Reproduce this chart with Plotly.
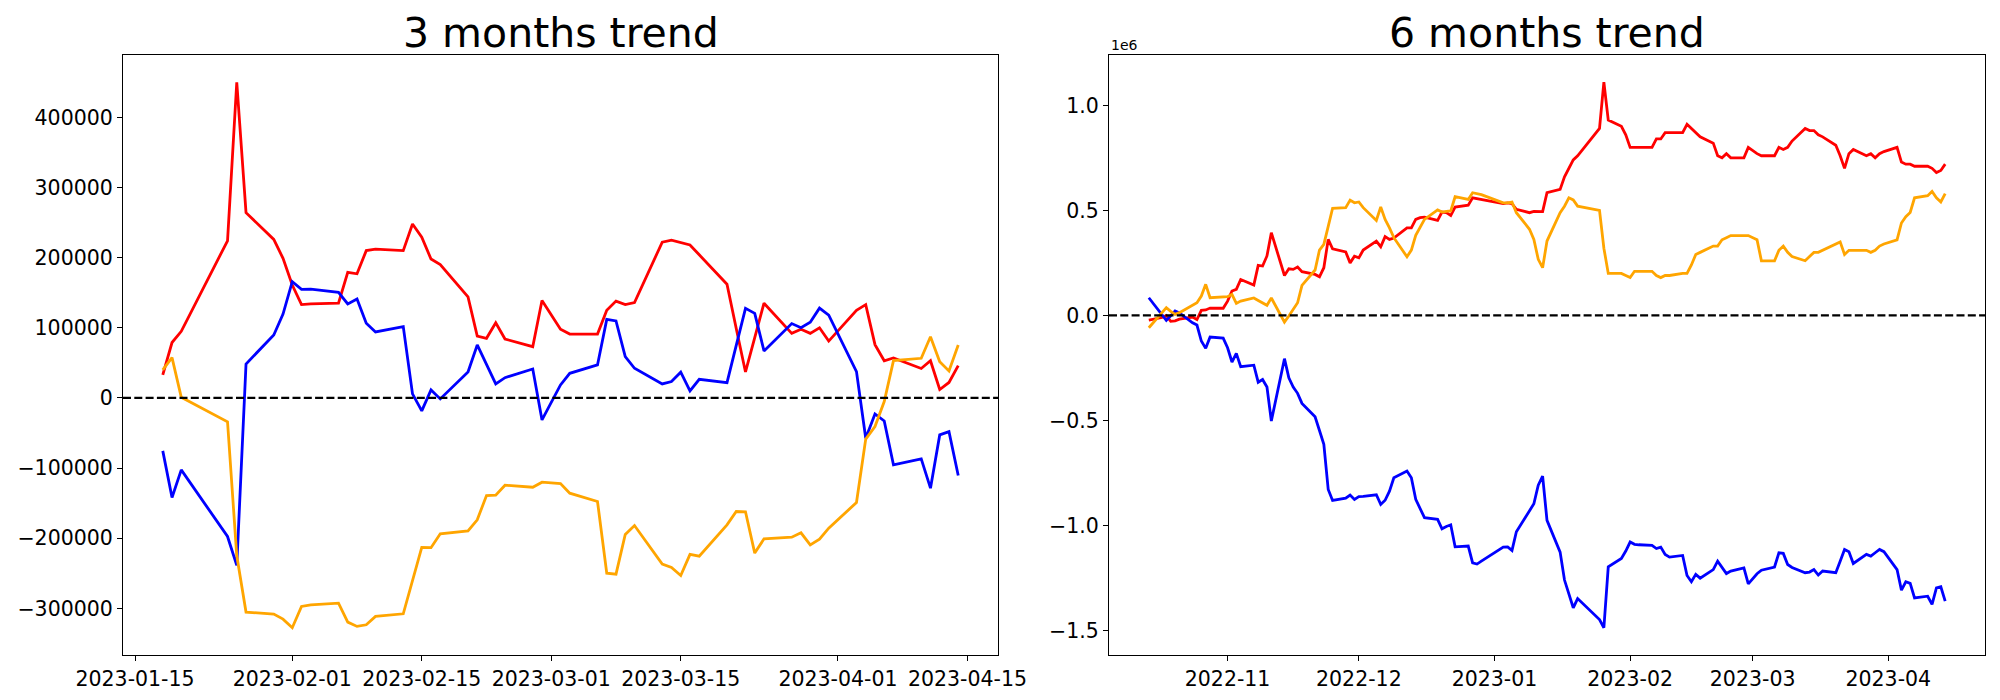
import plotly.graph_objects as go
import pandas as pd

# ---------------- 3 months data ----------------
dates_3m = [
    "2023-01-18", "2023-01-19", "2023-01-20", "2023-01-25", "2023-01-26", "2023-01-27",
    "2023-01-30", "2023-01-31", "2023-02-01", "2023-02-02", "2023-02-03",
    "2023-02-06", "2023-02-07", "2023-02-08", "2023-02-09", "2023-02-10",
    "2023-02-13", "2023-02-14", "2023-02-15", "2023-02-16", "2023-02-17",
    "2023-02-20", "2023-02-21", "2023-02-22", "2023-02-23", "2023-02-24",
    "2023-02-27", "2023-02-28", "2023-03-02", "2023-03-03",
    "2023-03-06", "2023-03-07", "2023-03-08", "2023-03-09", "2023-03-10",
    "2023-03-13", "2023-03-14", "2023-03-15", "2023-03-16", "2023-03-17",
    "2023-03-20", "2023-03-21", "2023-03-22", "2023-03-23", "2023-03-24",
    "2023-03-27", "2023-03-28", "2023-03-29", "2023-03-30", "2023-03-31",
    "2023-04-03", "2023-04-04", "2023-04-05", "2023-04-06", "2023-04-07",
    "2023-04-10", "2023-04-11", "2023-04-12", "2023-04-13", "2023-04-14",
]
red_3m = [
    33000, 79000, 95000, 224000, 450000, 264000,
    226000, 199000, 161000, 133000, 134000,
    135000, 179000, 177000, 210000, 212000,
    210000, 248000, 229000, 198000, 190000,
    144000, 88000, 85000, 107000, 84000,
    73000, 139000, 98000, 91000,
    91000, 125000, 138000, 133000, 136000,
    222000, 225000, 221000, 218000, 204000,
    162000, 99000, 37000, 86000, 135000,
    92000, 98000, 92000, 100000, 81000,
    125000, 133000, 76000, 53000, 57000,
    42000, 53000, 12000, 22000, 46000,
]
blue_3m = [
    -75500, -142000, -102600, -197500, -238800, 48400,
    89700, 119600, 165700, 154800, 155200,
    150600, 133900, 141000, 106400, 94000,
    101600, 5700, -18500, 11400, -1400,
    37000, 75500, 47000, 19900, 28900,
    41300, -31300, 18500, 35100,
    47000, 112000, 109700, 58900, 42300,
    19900, 23300, 36600, 10000, 26600,
    21800, 75000, 127700, 120600, 67000,
    106000, 100000, 108000, 128000, 118000,
    37500, -57400, -22800, -32800, -95400,
    -86900, -128600, -52700, -48000, -110700,
]
orange_3m = [
    39900, 57400, 1000, -34000, -225000, -305300,
    -308100, -315300, -327600, -297200, -295000,
    -292500, -319600, -325700, -323400, -311500,
    -307700, -260000, -213200, -213500, -193700,
    -189500, -173800, -139100, -138700, -124400,
    -127300, -120100, -122000, -135800,
    -147700, -249800, -251200, -194700, -181900,
    -236900, -241700, -253100, -223100, -225500,
    -180900, -161900, -162300, -221200, -200900,
    -198500, -192300, -209400, -201300, -185600,
    -149100, -58800, -40800, -5200, 53200,
    56500, 87300, 51700, 38500, 75500,
]

# ---------------- 6 months data ----------------
dates_6m = [
    "2022-10-14", "2022-10-17", "2022-10-18", "2022-10-19", "2022-10-20", "2022-10-21",
    "2022-10-24", "2022-10-25", "2022-10-26", "2022-10-27", "2022-10-28",
    "2022-10-31", "2022-11-01", "2022-11-02", "2022-11-03", "2022-11-04",
    "2022-11-07", "2022-11-08", "2022-11-09", "2022-11-10", "2022-11-11",
    "2022-11-14", "2022-11-15", "2022-11-16", "2022-11-17", "2022-11-18",
    "2022-11-21", "2022-11-22", "2022-11-23", "2022-11-24", "2022-11-25",
    "2022-11-28", "2022-11-29", "2022-11-30", "2022-12-01", "2022-12-02",
    "2022-12-05", "2022-12-06", "2022-12-07", "2022-12-08", "2022-12-09",
    "2022-12-12", "2022-12-13", "2022-12-14", "2022-12-15", "2022-12-16",
    "2022-12-19", "2022-12-20", "2022-12-21", "2022-12-22", "2022-12-23",
    "2022-12-26", "2022-12-27", "2022-12-28", "2022-12-29",
    "2023-01-03", "2023-01-04", "2023-01-05", "2023-01-06",
    "2023-01-09", "2023-01-10", "2023-01-11", "2023-01-12", "2023-01-13",
    "2023-01-16", "2023-01-17", "2023-01-18", "2023-01-19", "2023-01-20",
    "2023-01-25", "2023-01-26", "2023-01-27",
    "2023-01-30", "2023-01-31", "2023-02-01", "2023-02-02", "2023-02-03",
    "2023-02-06", "2023-02-07", "2023-02-08", "2023-02-09", "2023-02-10",
    "2023-02-13", "2023-02-14", "2023-02-15", "2023-02-16", "2023-02-17",
    "2023-02-20", "2023-02-21", "2023-02-22", "2023-02-23", "2023-02-24",
    "2023-02-27", "2023-02-28", "2023-03-02", "2023-03-03",
    "2023-03-06", "2023-03-07", "2023-03-08", "2023-03-09", "2023-03-10",
    "2023-03-13", "2023-03-14", "2023-03-15", "2023-03-16", "2023-03-17",
    "2023-03-20", "2023-03-21", "2023-03-22", "2023-03-23", "2023-03-24",
    "2023-03-27", "2023-03-28", "2023-03-29", "2023-03-30", "2023-03-31",
    "2023-04-03", "2023-04-04", "2023-04-05", "2023-04-06", "2023-04-07",
    "2023-04-10", "2023-04-11", "2023-04-12", "2023-04-13", "2023-04-14",
]
red_6m = [
    -22000, -10000, 0, -28000, -26000, -18000,
    -8000, -20000, 24000, 26000, 35000,
    34000, 68000, 116000, 124000, 171000,
    144000, 238000, 235000, 283000, 394000,
    190000, 222000, 219000, 230000, 208000,
    195000, 184000, 227000, 362000, 317000,
    302000, 250000, 282000, 274000, 311000,
    354000, 327000, 375000, 362000, 368000,
    417000, 417000, 457000, 465000, 468000,
    452000, 492000, 489000, 476000, 516000,
    525000, 560000, 556000, 549000,
    532000, 536000, 532000, 505000,
    489000, 495000, 495000, 494000, 584000,
    600000, 660000, 700000, 740000, 760000,
    890000, 1110000, 930000,
    900000, 860000, 800000, 800000, 800000,
    800000, 840000, 840000, 870000, 870000,
    870000, 910000, 890000, 870000, 850000,
    820000, 760000, 750000, 770000, 750000,
    750000, 800000, 770000, 760000,
    760000, 800000, 790000, 800000, 830000,
    890000, 880000, 880000, 860000, 850000,
    810000, 760000, 700000, 770000, 790000,
    760000, 770000, 750000, 770000, 780000,
    800000, 730000, 720000, 720000, 710000,
    710000, 700000, 680000, 690000, 720000,
]
blue_6m = [
    84000, 5000, -24000, -2000, 21000, 12000,
    -35000, -46000, -122000, -157000, -103000,
    -108000, -154000, -222000, -181000, -244000,
    -237000, -318000, -305000, -341000, -503000,
    -206000, -297000, -341000, -371000, -419000,
    -483000, -548000, -614000, -829000, -881000,
    -870000, -855000, -876000, -863000, -862000,
    -854000, -900000, -880000, -837000, -773000,
    -741000, -773000, -876000, -916000, -963000,
    -971000, -1016000, -1005000, -997000, -1102000,
    -1098000, -1178000, -1184000, -1170000,
    -1103000, -1102000, -1119000, -1030000,
    -926000, -897000, -808000, -765000, -976000,
    -1127000, -1260000, -1326000, -1392000, -1348000,
    -1448000, -1487000, -1197000,
    -1157000, -1122000, -1079000, -1090000, -1092000,
    -1095000, -1110000, -1103000, -1138000, -1151000,
    -1143000, -1238000, -1268000, -1233000, -1251000,
    -1210000, -1170000, -1200000, -1229000, -1217000,
    -1202000, -1278000, -1230000, -1213000,
    -1198000, -1130000, -1133000, -1186000, -1200000,
    -1225000, -1222000, -1210000, -1236000, -1217000,
    -1225000, -1170000, -1114000, -1125000, -1181000,
    -1138000, -1146000, -1130000, -1114000, -1125000,
    -1210000, -1308000, -1268000, -1276000, -1345000,
    -1337000, -1376000, -1297000, -1292000, -1360000,
]
orange_6m = [
    -59000, 11000, 37000, 19000, 5000, 13000,
    48000, 60000, 92000, 148000, 84000,
    89000, 89000, 100000, 57000, 68000,
    83000, 71000, 60000, 48000, 83000,
    -32000, -3000, 28000, 60000, 143000,
    216000, 311000, 338000, 424000, 510000,
    513000, 549000, 536000, 540000, 513000,
    452000, 516000, 457000, 417000, 370000,
    279000, 311000, 381000, 417000, 457000,
    502000, 492000, 495000, 497000, 565000,
    552000, 584000, 581000, 575000,
    536000, 536000, 540000, 489000,
    410000, 362000, 267000, 227000, 354000,
    489000, 520000, 560000, 550000, 520000,
    500000, 320000, 200000,
    200000, 190000, 180000, 210000, 210000,
    210000, 190000, 180000, 190000, 190000,
    200000, 200000, 240000, 290000, 300000,
    330000, 330000, 360000, 370000, 380000,
    380000, 380000, 360000, 260000,
    260000, 310000, 330000, 300000, 280000,
    260000, 280000, 300000, 300000, 310000,
    340000, 350000, 290000, 310000, 310000,
    310000, 300000, 310000, 330000, 340000,
    360000, 440000, 470000, 490000, 560000,
    570000, 590000, 560000, 540000, 580000,
]

xticks_3m = ["2023-01-15", "2023-02-01", "2023-02-15", "2023-03-01",
             "2023-03-15", "2023-04-01", "2023-04-15"]
xticks_6m = ["2022-11-01", "2022-12-01", "2023-01-01", "2023-02-01",
             "2023-03-01", "2023-04-01"]
yticks_3m = [-300000, -200000, -100000, 0, 100000, 200000, 300000, 400000]
yticks_6m = [-1.5e6, -1.0e6, -0.5e6, 0.0, 0.5e6, 1.0e6]

FONT = "DejaVu Sans"
TICK_SIZE = 20.5
TITLE_SIZE = 41


def minus(s):
    return s.replace("-", "\u2212")


def pad_y(*series, frac=0.05):
    vals = [v for s in series for v in s]
    lo, hi = min(vals), max(vals)
    d = hi - lo
    return [lo - frac * d, hi + frac * d]


def pad_x(dates, frac=0.05):
    ts = pd.to_datetime(pd.Series(dates))
    lo, hi = ts.min(), ts.max()
    d = hi - lo
    return [(lo - frac * d).strftime("%Y-%m-%d %H:%M:%S"),
            (hi + frac * d).strftime("%Y-%m-%d %H:%M:%S")]


fig = go.Figure()

series = [("red", red_3m, red_6m), ("blue", blue_3m, blue_6m), ("orange", orange_3m, orange_6m)]
for color, v3, v6 in series:
    fig.add_trace(go.Scatter(x=dates_3m, y=v3, mode="lines",
                             line=dict(color=color, width=2.8),
                             xaxis="x", yaxis="y", showlegend=False))
    fig.add_trace(go.Scatter(x=dates_6m, y=v6, mode="lines",
                             line=dict(color=color, width=2.8),
                             xaxis="x2", yaxis="y2", showlegend=False))

axis_common = dict(
    showline=True, linecolor="black", linewidth=1.1, mirror=True,
    ticks="outside", ticklen=5, tickwidth=1.1, tickcolor="black",
    showgrid=False, zeroline=False, automargin=False,
    tickfont=dict(family=FONT, size=TICK_SIZE, color="black"),
)

Y_DOMAIN = [0.0757, 0.9329]

fig.update_layout(
    template="none",
    width=2000, height=700,
    margin=dict(l=0, r=0, t=0, b=0, pad=0),
    paper_bgcolor="white", plot_bgcolor="white",
    font=dict(family=FONT, color="black"),
    showlegend=False,
    xaxis=dict(domain=[0.0575, 0.495], anchor="y", type="date",
               range=pad_x(dates_3m), tickvals=xticks_3m,
               ticktext=xticks_3m, **axis_common),
    yaxis=dict(domain=Y_DOMAIN, anchor="x",
               range=pad_y(red_3m, blue_3m, orange_3m),
               tickvals=yticks_3m,
               ticktext=[minus(str(v)) for v in yticks_3m], **axis_common),
    xaxis2=dict(domain=[0.5505, 0.9885], anchor="y2", type="date",
                range=pad_x(dates_6m), tickvals=xticks_6m,
                ticktext=[d[:7] for d in xticks_6m], **axis_common),
    yaxis2=dict(domain=Y_DOMAIN, anchor="x2",
                range=pad_y(red_6m, blue_6m, orange_6m),
                tickvals=yticks_6m,
                ticktext=[minus(f"{v / 1e6:.1f}") for v in yticks_6m], **axis_common),
    shapes=[
        dict(type="line", xref="x domain", yref="y", x0=0, x1=1, y0=0, y1=0,
             line=dict(color="black", width=2.1, dash="8px,3.3px")),
        dict(type="line", xref="x2 domain", yref="y2", x0=0, x1=1, y0=0, y1=0,
             line=dict(color="black", width=2.1, dash="8px,3.3px")),
    ],
    annotations=[
        dict(text="3 months trend", xref="x domain", yref="y domain", x=0.5, y=1,
             xanchor="center", yanchor="bottom", showarrow=False, yshift=-4,
             font=dict(family=FONT, size=TITLE_SIZE, color="black")),
        dict(text="6 months trend", xref="x2 domain", yref="y2 domain", x=0.5, y=1,
             xanchor="center", yanchor="bottom", showarrow=False, yshift=-4,
             font=dict(family=FONT, size=TITLE_SIZE, color="black")),
        dict(text="1e6", xref="x2 domain", yref="y2 domain", x=0, y=1,
             xanchor="left", yanchor="bottom", showarrow=False, yshift=0,
             font=dict(family=FONT, size=14, color="black")),
    ],
)

fig.write_html("out.html")
